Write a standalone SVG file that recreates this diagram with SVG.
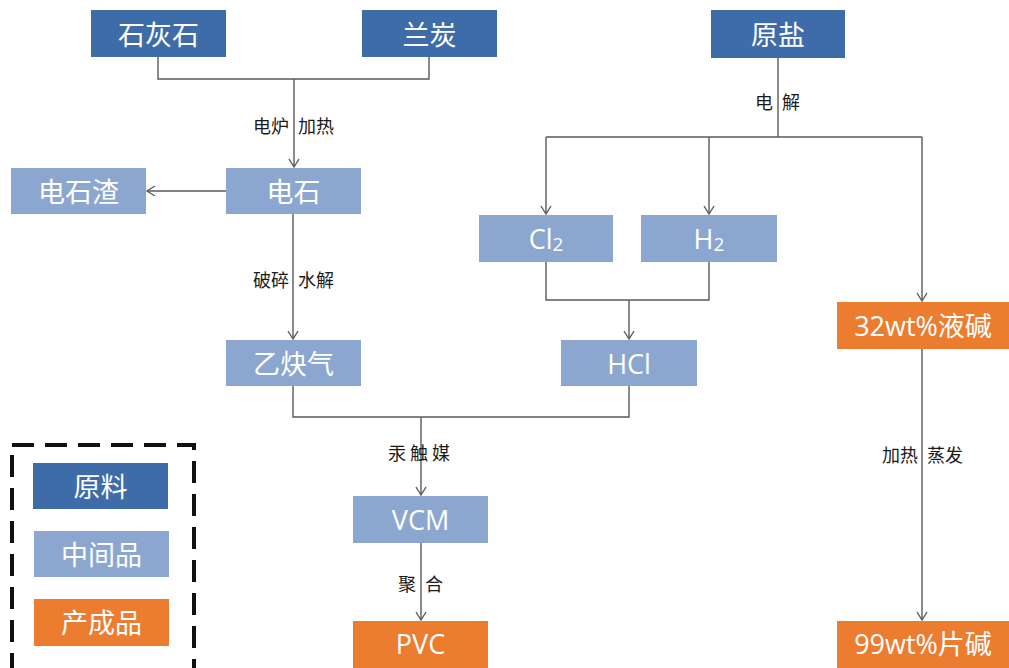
<svg xmlns="http://www.w3.org/2000/svg" width="1009" height="668" viewBox="0 0 1009 668">
<style>
.raw{fill:#3E6CA8}
.mid{fill:#8CA7CF}
.out{fill:#EC7C30}
.bt{fill:#fff;font-family:"Open Sans","Noto Sans CJK SC",sans-serif;font-size:27px;text-anchor:middle;dominant-baseline:central}
.lb{fill:#1a1a1a;font-family:"Noto Sans CJK SC",sans-serif;font-size:18px;dominant-baseline:central}
.cn{fill:none;stroke:#5A5A5A;stroke-width:1.4}
</style>
<defs>
<marker id="ar" viewBox="-10 -6 12 12" markerWidth="12" markerHeight="12" refX="0" refY="0" orient="auto" markerUnits="userSpaceOnUse">
<path d="M-8,-5 L0,0 L-8,5" fill="none" stroke="#5A5A5A" stroke-width="1.4"/>
</marker>
</defs>
<rect width="1009" height="668" fill="#fff"/>
<g id="connectors">
<path class="cn" d="M158,57 V79 H429 V57"/>
<path class="cn" d="M294,79 V167" marker-end="url(#ar)"/>
<path class="cn" d="M226,191 H147" marker-end="url(#ar)"/>
<path class="cn" d="M293,214 V339" marker-end="url(#ar)"/>
<path class="cn" d="M778,58 V137"/>
<path class="cn" d="M546,137 H922"/>
<path class="cn" d="M546,137 V214" marker-end="url(#ar)"/>
<path class="cn" d="M709,137 V214" marker-end="url(#ar)"/>
<path class="cn" d="M922,137 V301" marker-end="url(#ar)"/>
<path class="cn" d="M546,262 V300 H709 V262"/>
<path class="cn" d="M629,300 V339" marker-end="url(#ar)"/>
<path class="cn" d="M293,386 V417 H629 V386"/>
<path class="cn" d="M421,417 V495" marker-end="url(#ar)"/>
<path class="cn" d="M421,543 V620" marker-end="url(#ar)"/>
<path class="cn" d="M922,349 V620" marker-end="url(#ar)"/>
<text class="lb" x="289" y="125" text-anchor="end">电炉</text>
<text class="lb" x="298" y="125">加热</text>
<text class="lb" x="773" y="101" text-anchor="end">电</text>
<text class="lb" x="782" y="101">解</text>
<text class="lb" x="289" y="279" text-anchor="end">破碎</text>
<text class="lb" x="298" y="279">水解</text>
<text class="lb" x="421" y="452" text-anchor="middle" letter-spacing="4">汞触媒</text>
<text class="lb" x="416" y="583" text-anchor="end">聚</text>
<text class="lb" x="425" y="583">合</text>
<text class="lb" x="918" y="454" text-anchor="end">加热</text>
<text class="lb" x="927" y="454">蒸发</text>
</g>
<g id="n-limestone"><rect class="raw" x="91" y="10" width="135" height="47"/><text class="bt" x="158.5" y="34">石灰石</text></g>
<g id="n-coke"><rect class="raw" x="362" y="10" width="135" height="47"/><text class="bt" x="429.5" y="34">兰炭</text></g>
<g id="n-salt"><rect class="raw" x="711" y="10" width="134" height="48"/><text class="bt" x="778" y="34">原盐</text></g>
<g id="n-carbide"><rect class="mid" x="226" y="168" width="135" height="46"/><text class="bt" x="293.5" y="191">电石</text></g>
<g id="n-slag"><rect class="mid" x="11" y="168" width="135" height="46"/><text class="bt" x="78.5" y="191">电石渣</text></g>
<g id="n-cl2"><rect class="mid" x="479" y="215" width="134" height="47"/><text class="bt" x="546" y="238">Cl<tspan font-size="19" dy="6">2</tspan></text></g>
<g id="n-h2"><rect class="mid" x="641" y="215" width="136" height="47"/><text class="bt" x="709" y="238">H<tspan font-size="19" dy="6">2</tspan></text></g>
<g id="n-acetylene"><rect class="mid" x="226" y="340" width="135" height="46"/><text class="bt" x="293.5" y="363">乙炔气</text></g>
<g id="n-hcl"><rect class="mid" x="561" y="340" width="136" height="46"/><text class="bt" x="629" y="363">HCl</text></g>
<g id="n-vcm"><rect class="mid" x="353" y="496" width="135" height="47"/><text class="bt" x="420.5" y="519">VCM</text></g>
<g id="n-pvc"><rect class="out" x="353" y="621" width="135" height="47"/><text class="bt" x="420.5" y="643">PVC</text></g>
<g id="n-lye"><rect class="out" x="837" y="302" width="172" height="47"/><text class="bt" x="923" y="325">32wt%液碱</text></g>
<g id="n-flake"><rect class="out" x="837" y="621" width="172" height="47"/><text class="bt" x="923" y="643">99wt%片碱</text></g>
<g id="legend">
<rect x="12" y="445" width="182" height="230" fill="none" stroke="#111" stroke-width="4" stroke-dasharray="22 11"/>
<rect class="raw" x="33" y="463" width="135" height="46"/><text class="bt" x="100.5" y="486">原料</text>
<rect class="mid" x="34" y="531" width="135" height="46"/><text class="bt" x="101.5" y="554">中间品</text>
<rect class="out" x="34" y="599" width="135" height="47"/><text class="bt" x="101.5" y="622">产成品</text>
</g>
</svg>
